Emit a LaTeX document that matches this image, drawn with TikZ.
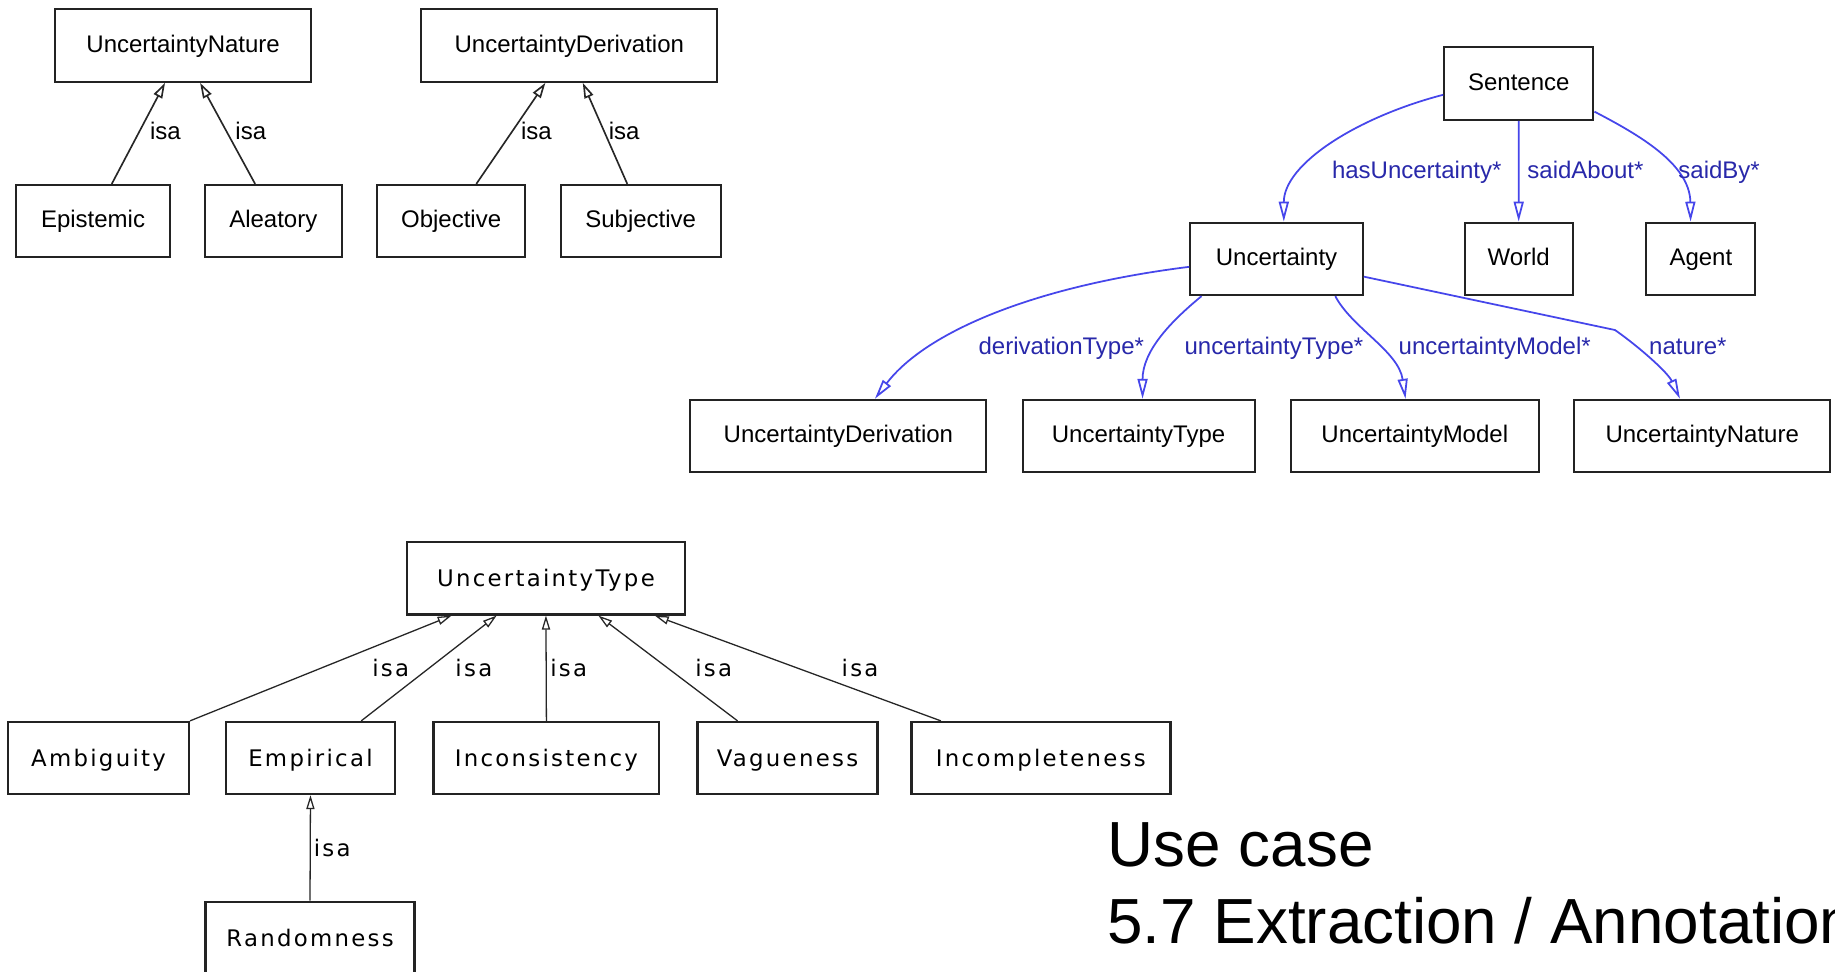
\documentclass[tikz,border=0pt]{standalone}
\usepackage{fontspec}
\setmainfont{Liberation Sans}
\newfontfamily\umlfont{Liberation Sans}
\newfontfamily\swingfont[LetterSpace=10]{DejaVu Sans}
\usetikzlibrary{arrows.meta}

\definecolor{edgeblue}{RGB}{70,70,235}
\definecolor{lblblue}{RGB}{40,40,170}
\definecolor{boxline}{RGB}{35,35,35}

\tikzset{
  cls/.style={draw=boxline, line width=1.7pt, inner sep=0pt, minimum height=62pt,
    font={\umlfont\fontsize{20.5pt}{24pt}\selectfont}, text height=15pt, text depth=3.5pt},
  swingcls/.style={draw=boxline, line width=2pt, inner sep=0pt, minimum height=62pt,
    font={\swingfont\fontsize{19.5pt}{23pt}\selectfont}, text height=18pt, text depth=3.2pt},
  isaedge/.style={draw=black!85, line width=1.4pt, -{Triangle[open, length=13pt, width=8pt]}},
  swingedge/.style={draw=black!85, line width=1.1pt, -{Triangle[open, length=12pt, width=7pt]}},
  propedge/.style={draw=edgeblue, line width=1.5pt, -{Triangle[open, length=17pt, width=8.5pt]}},
  isalbl/.style={anchor=base west, inner sep=0pt, font={\umlfont\fontsize{20.5pt}{24pt}\selectfont}},
  swinglbl/.style={anchor=base west, inner sep=0pt, font={\swingfont\fontsize{19.5pt}{23pt}\selectfont}},
  proplbl/.style={anchor=base west, inner sep=0pt, text=lblblue, font={\umlfont\fontsize{20.5pt}{24pt}\selectfont}},
  titletext/.style={anchor=base west, inner sep=0pt, font={\fontsize{54.5pt}{66pt}\selectfont}}
}

\begin{document}
\begin{tikzpicture}[x=1pt, y=-1pt]
\useasboundingbox (0,0) rectangle (1568,830);
\fill[white] (0,0) rectangle (1568,830);

% ---- UncertaintyNature hierarchy ----
\node[cls, minimum width=219pt] (natTop) at (156.5,39) {UncertaintyNature};
\node[cls, minimum width=131pt] (epi) at (79.5,189) {Epistemic};
\node[cls, minimum width=117pt] (alea) at (233.5,189) {Aleatory};
\draw[isaedge] ([xshift=16pt]epi.north) -- ([xshift=-15.5pt]natTop.south);
\draw[isaedge] ([xshift=-15.5pt]alea.north) -- ([xshift=14.5pt]natTop.south);
\node[isalbl] (l1) at (128,119) {isa};
\node[isalbl] (l2) at (201,119) {isa};

% ---- UncertaintyDerivation hierarchy ----
\node[cls, minimum width=253pt] (derTop) at (486.5,39) {UncertaintyDerivation};
\node[cls, minimum width=127pt] (obj) at (385.5,189) {Objective};
\node[cls, minimum width=137pt] (subj) at (547.5,189) {Subjective};
\draw[isaedge] ([xshift=21.5pt]obj.north) -- ([xshift=-20.5pt]derTop.south);
\draw[isaedge] ([xshift=-11.5pt]subj.north) -- ([xshift=11.5pt]derTop.south);
\node[isalbl] (l3) at (445,119) {isa};
\node[isalbl] (l4) at (520,119) {isa};

% ---- Sentence / Uncertainty properties ----
\node[cls, minimum width=127.6pt] (sent) at (1297.8,71.5) {Sentence};
\node[cls, minimum width=147.5pt] (unc) at (1090.8,221.2) {Uncertainty};
\node[cls, minimum width=92.6pt] (world) at (1297.7,221.2) {World};
\node[cls, minimum width=93.2pt] (agent) at (1453.4,221.2) {Agent};
\node[cls, minimum width=253pt] (der2) at (716.4,372.6) {UncertaintyDerivation};
\node[cls, minimum width=198.3pt] (typ2) at (972.9,372.6) {UncertaintyType};
\node[cls, minimum width=212.2pt] (mod2) at (1208.9,372.6) {UncertaintyModel};
\node[cls, minimum width=219pt] (nat2) at (1454.5,372.6) {UncertaintyNature};

\draw[propedge] ([yshift=-9.5pt]sent.west) .. controls (1160,100) and (1097,140) .. ([xshift=6.2pt]unc.north);
\draw[propedge] (sent.south) -- (world.north);
\draw[propedge] ([yshift=-23.9pt]sent.east) .. controls (1400,115) and (1444,140) .. ([xshift=-8.8pt]agent.north);
\node[proplbl] (p1) at (1138,152.4) {hasUncertainty*};
\node[proplbl] (p2) at (1305,152.4) {saidAbout*};
\node[proplbl] (p3) at (1434,152.4) {saidBy*};

\coordinate (natbend) at (1380,282);
\draw[propedge] ([yshift=-6.8pt]unc.west) .. controls (880,245) and (790,285) .. ([xshift=31.2pt]der2.north);
\draw[propedge] ([xshift=-64.1pt]unc.south) .. controls (1000,275) and (976.3,300) .. ([xshift=3.4pt]typ2.north);
\draw[propedge] ([xshift=50.2pt]unc.south) .. controls (1155,280) and (1195,300) .. ([xshift=-7.9pt]mod2.north);
\draw[propedge] ([yshift=-15.2pt]unc.east) -- (natbend) .. controls (1400,296) and (1425,318) .. ([xshift=-19pt]nat2.north);
\node[proplbl] (p4) at (836,303.3) {derivationType*};
\node[proplbl] (p5) at (1012,303.3) {uncertaintyType*};
\node[proplbl] (p6) at (1195,303.3) {uncertaintyModel*};
\node[proplbl] (p7) at (1409,303.3) {nature*};

% ---- UncertaintyType hierarchy ----
\node[swingcls, minimum width=237.3pt] (typRoot) at (466.5,494) {UncertaintyType};
\node[swingcls, minimum width=154.4pt, minimum height=61.5pt] (amb) at (84.2,647.7) {Ambiguity};
\node[swingcls, minimum width=144.6pt, minimum height=61.5pt] (emp) at (265.3,647.7) {Empirical};
\node[swingcls, minimum width=192.9pt, minimum height=61.5pt] (inc) at (466.9,647.7) {Inconsistency};
\node[swingcls, minimum width=153.8pt, minimum height=61.5pt] (vag) at (672.9,647.7) {Vagueness};
\node[swingcls, minimum width=221.3pt, minimum height=61.5pt] (incomp) at (889.4,647.7) {Incompleteness};
\node[swingcls, minimum width=178.8pt, minimum height=61.5pt] (rand) at (264.9,801.3) {Randomness};

\draw[swingedge] (amb.north east) -- ([xshift=-80.6pt]typRoot.south);
\draw[swingedge] ([xshift=43.4pt]emp.north) -- ([xshift=-42.1pt]typRoot.south);
\draw[swingedge] (inc.north) -- (typRoot.south);
\draw[swingedge] ([xshift=-42.7pt]vag.north) -- ([xshift=44.8pt]typRoot.south);
\draw[swingedge] ([xshift=-85.5pt]incomp.north) -- ([xshift=93pt]typRoot.south);
\draw[swingedge] (rand.north) -- (emp.south);
\node[swinglbl] (s1) at (318,578.2) {isa};
\node[swinglbl] (s2) at (389,578.2) {isa};
\node[swinglbl] (s3) at (470,578.2) {isa};
\node[swinglbl] (s4) at (594,578.2) {isa};
\node[swinglbl] (s5) at (719,578.2) {isa};
\node[swinglbl] (s6) at (268,732) {isa};

% ---- caption ----
\node[titletext] (cap1) at (946.5,740) {Use case};
\node[titletext] (cap2) at (946,806.6) {5.7 Extraction / Annotation};
\end{tikzpicture}
\end{document}
